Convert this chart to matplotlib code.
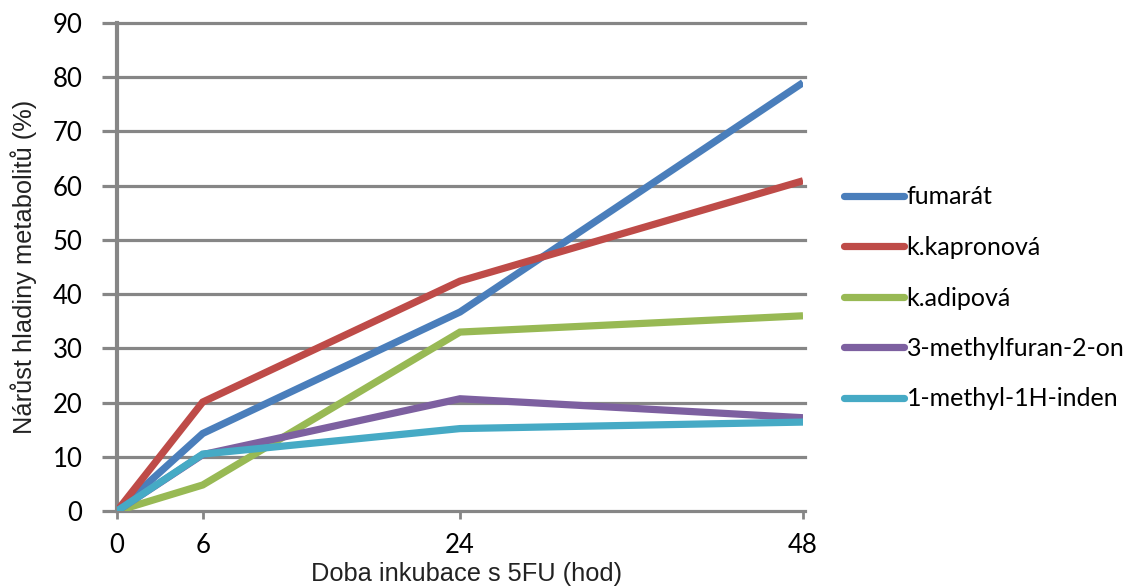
import numpy as np
import matplotlib.pyplot as plt

# incubation times (hours)
hours = [0, 6, 24, 48]
fumarat = [0, 14.3, 36.7, 79.0]
kapronova = [0, 20.1, 42.4, 60.9]
adipova = [0, 4.8, 33.0, 36.0]
methylfuranon = [0, 10.4, 20.7, 17.2]
methylinden = [0, 10.5, 15.2, 16.4]

labels = ['fumarát', 'k.kapronová', 'k.adipová', '3-methylfuran-2-on', '1-methyl-1H-inden']
colors = ['#4A7EBB', '#BE4B48', '#98B954', '#7D60A0', '#46AAC5']
series = [fumarat, kapronova, adipova, methylfuranon, methylinden]

grid_col = '#868686'

fig = plt.figure(figsize=(11.29, 5.86), dpi=100)
ax = fig.add_axes([117/1129, 1-511/586, (803-117)/1129, (511-23)/586])

for y in np.arange(0, 91, 10):
    ax.axhline(y, color=grid_col, lw=2.3, zorder=1, xmax=1.003, clip_on=False)

for vals, lab, c in zip(series, labels, colors):
    ax.plot(hours, vals, color=c, lw=5.2, label=lab, zorder=3,
            solid_capstyle='butt', solid_joinstyle='miter')

ax.set_xlim(0, 48)
ax.set_ylim(0, 90)
ax.set_xticks(hours)
ax.set_yticks(np.arange(0, 91, 10))

for s in ['top', 'right', 'bottom']:
    ax.spines[s].set_visible(False)
ax.spines['left'].set_color(grid_col)
ax.spines['left'].set_linewidth(3)
ax.spines['left'].set_zorder(2)

ax.tick_params(axis='y', length=11, width=2.3, color=grid_col, pad=14,
               labelsize=18.5)
ax.tick_params(axis='x', length=6, width=2, color=grid_col, pad=10,
               labelsize=18.5)
for t in ax.get_xticklabels() + ax.get_yticklabels():
    t.set_family('Lato')

ax.set_xlabel('Doba inkubace s 5FU (hod)', fontsize=18.3, family='Liberation Sans',
              color='#222222', labelpad=3)
ax.xaxis.label.set_x(0.51)
ax.set_ylabel('Nárůst hladiny metabolitů (%)', fontsize=18.3, family='Liberation Sans',
              color='#222222', labelpad=11)

leg = fig.legend(loc='center left', bbox_to_anchor=(821/1129, 1-298/586),
                 frameon=False, prop={'family': 'Lato', 'size': 18},
                 handlelength=2.4, handletextpad=0.12, labelspacing=1.1)
for h in leg.get_lines():
    h.set_linewidth(5.2)
    h.set_solid_capstyle('round')

fig.savefig('out.png', dpi=100)
